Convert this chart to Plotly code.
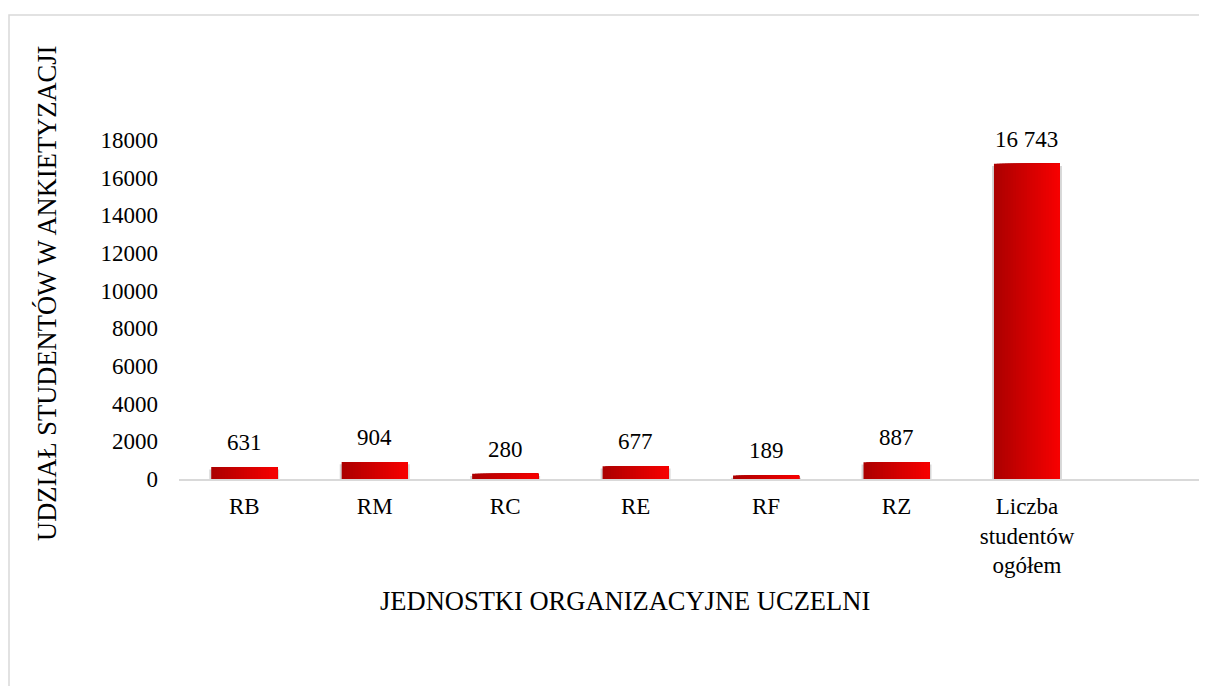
import plotly.graph_objects as go

categories = ["RB", "RM", "RC", "RE", "RF", "RZ", "Liczba<br>studentów<br>ogółem"]
values = [631, 904, 280, 677, 189, 887, 16743]
y_ticks = [0, 2000, 4000, 6000, 8000, 10000, 12000, 14000, 16000, 18000]
x_title = "JEDNOSTKI ORGANIZACYJNE UCZELNI"
y_title = "UDZIAŁ STUDENTÓW W ANKIETYZACJI"

# page has an 8px body margin; size the figure so it fills the 1207x686 window
W, H = 1199, 678
L, R, T, B = 171, 0, 132, 207
PW, PH = W - L - R, H - T - B
FONT = "Liberation Serif"
OFF = 8

def px_to_paper(px, py):
    px -= OFF
    py -= OFF
    return (px - L) / PW, (H - B - py) / PH

fig = go.Figure()

# soft shadow behind bars
bar_w = 0.506
fig.add_trace(go.Bar(
    x=categories, y=values, width=bar_w + 0.03, offset=-(bar_w + 0.03) / 2,
    base=-120, marker=dict(color="rgba(0,0,0,0.16)", line=dict(width=0)),
    cliponaxis=False, hoverinfo="skip", showlegend=False,
))

# gradient bars built from overlaid slices
n = 24
c0 = (172, 0, 0)
c1 = (246, 0, 0)
for k in range(n):
    t = k / (n - 1)
    col = "rgb(%d,%d,%d)" % tuple(round(a + (b - a) * t) for a, b in zip(c0, c1))
    off = -bar_w / 2 + k * bar_w / n
    fig.add_trace(go.Bar(
        x=categories, y=values, width=bar_w - k * bar_w / n, offset=off,
        marker=dict(color=col, line=dict(width=0)),
        showlegend=False, hoverinfo="skip" if k else None,
    ))

annotations = []
for c, v in zip(categories, values):
    annotations.append(dict(
        x=c, y=v, xref="x", yref="y", text=f"{v:,}".replace(",", " "),
        showarrow=False, yanchor="bottom", yshift=10,
        font=dict(family=FONT, size=23, color="#000"),
    ))

ax, ay = px_to_paper(625, 601)
annotations.append(dict(x=ax, y=ay, xref="paper", yref="paper", text=x_title,
                        showarrow=False, xanchor="center", yanchor="middle",
                        font=dict(family=FONT, size=26.5, color="#000")))
ax, ay = px_to_paper(47, 294)
annotations.append(dict(x=ax, y=ay, xref="paper", yref="paper", text=y_title,
                        showarrow=False, textangle=-90, xanchor="center", yanchor="middle",
                        font=dict(family=FONT, size=26.5, color="#000")))

bx0, by0 = px_to_paper(9, 15)
bx1, by1 = px_to_paper(1214, 700)
shapes = [dict(type="rect", xref="paper", yref="paper", x0=bx0, y0=by1, x1=bx1, y1=by0,
               line=dict(color="#d9d9d9", width=1.5), fillcolor="rgba(0,0,0,0)", layer="below")]

fig.update_layout(
    width=W, height=H, margin=dict(l=L, r=R, t=T, b=B, autoexpand=False),
    paper_bgcolor="white", plot_bgcolor="white",
    barmode="overlay", showlegend=False,
    font=dict(family=FONT, size=23, color="#000"),
    annotations=annotations, shapes=shapes,
    xaxis=dict(type="category", range=[-0.5, 7.38], showgrid=False, zeroline=False,
               showline=True, linecolor="#d9d9d9", linewidth=2, ticks="",
               ticklabelstandoff=5, tickfont=dict(family=FONT, size=23, color="#000")),
    yaxis=dict(range=[0, 18000], tickvals=y_ticks, tickformat="d", showgrid=False,
               zeroline=False, showline=False, ticks="", ticklabelstandoff=20,
               tickfont=dict(family=FONT, size=23, color="#000")),
)

fig.write_html("out.html")
